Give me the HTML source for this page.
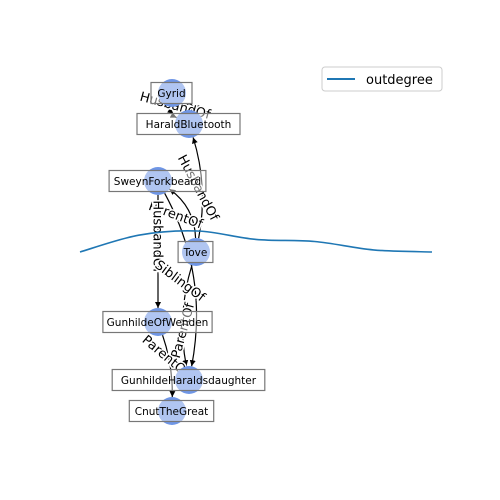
<!DOCTYPE html>
<html><head><meta charset="utf-8"><style>
html,body{margin:0;padding:0;background:#fff;}
svg{display:block;font-family:"DejaVu Sans","Liberation Sans",sans-serif;}
</style></head><body>
<svg id="chart" width="500" height="500" viewBox="0 0 500 500">
<defs><marker id="ah" viewBox="0 0 10 10" refX="10" refY="5" markerWidth="5" markerHeight="5" orient="auto-start-reverse"><path d="M0,0L10,5L0,10z" fill="#000"/></marker></defs>
<g id="edges"></g>
<g id="elabels"></g>
<g id="line"></g>
<g id="nodes"></g>
<g>
<rect x="322" y="67" width="120" height="24" rx="3" fill="#fff" stroke="#ccc"/>
<line x1="327" y1="79" x2="355" y2="79" stroke="#1f77b4" stroke-width="2"/>
<text x="366" y="84" font-size="13" fill="#000">outdegree</text>
</g>
</svg>
<script>
const nodeNames=["Gyrid","HaraldBluetooth","SweynForkbeard","Tove","GunhildeOfWenden","GunhildeHaraldsdaughter","CnutTheGreat"];
const nodeX=[172,189,158,196,158,189,172];
const nodeY=[93,124,181,252,322,380,411];
const edgeFrom=[1,0,3,3,2,2,3,4];
const edgeTo=[0,1,1,2,4,5,5,6];
const edgeLabels=["WifeOf","HusbandOf","HusbandOf","ParentOf","HusbandOf","SiblingOf","ParentOf","ParentOf"];
const outdegree=[0,0.8,1,0.6,0.5,0.1,0];
// styling per edge: curve bend, label offset and angle
const edgeBend=[-6,6,8,10,0,-18,8,-4];
const labelDX=[2,0,-2,-10,0,-11,-2,-3];
const labelDY=[-6,-6,0,3,-15,3,15,-10];
const labelAng=[15,15,62,20,90,37,-75,40];
const NS="http://www.w3.org/2000/svg";
function mk(t,a,p){const e=document.createElementNS(NS,t);for(const k in a)e.setAttribute(k,a[k]);p.appendChild(e);return e;}
const xL=80,xR=432,y0=252,k=21;
const xs=i=>xL+i*(xR-xL)/(outdegree.length-1);
const ys=v=>y0-v*k;
const pts=outdegree.map((v,i)=>[xs(i),ys(v)]);
let d="M"+pts[0][0]+","+pts[0][1];
for(let i=0;i<pts.length-1;i++){const p0=pts[Math.max(0,i-1)],p1=pts[i],p2=pts[i+1],p3=pts[Math.min(pts.length-1,i+2)];
d+=" C"+(p1[0]+(p2[0]-p0[0])/6)+","+(p1[1]+(p2[1]-p0[1])/6)+" "+(p2[0]-(p3[0]-p1[0])/6)+","+(p2[1]-(p3[1]-p1[1])/6)+" "+p2[0]+","+p2[1];}
const ln=mk("path",{d:d,fill:"none",stroke:"#1f77b4","stroke-width":1.6},document.getElementById("line"));


const eg=document.getElementById("edges"),lg=document.getElementById("elabels");
edgeFrom.forEach((f,i)=>{const t=edgeTo[i];
const x1=nodeX[f],y1=nodeY[f],x2=nodeX[t],y2=nodeY[t];
const dx=x2-x1,dy=y2-y1,L=Math.hypot(dx,dy);
const b=edgeBend[i],nx=-dy/L*b,ny=dx/L*b;
const cx=(x1+x2)/2+nx*2,cy=(y1+y2)/2+ny*2;
const sx=x1+(cx-x1)/Math.hypot(cx-x1,cy-y1)*14,sy=y1+(cy-y1)/Math.hypot(cx-x1,cy-y1)*14;
const q=Math.hypot(x2-cx,y2-cy),ex=x2-(x2-cx)/q*14,ey=y2-(y2-cy)/q*14;
const p=mk("path",{d:`M${sx},${sy} Q${cx},${cy} ${ex},${ey}`,fill:"none",stroke:"#000","stroke-width":1.2,"marker-end":"url(#ah)"},eg);


const mx=(x1+2*cx+x2)/4+labelDX[i],my=(y1+2*cy+y2)/4+labelDY[i];
const tx=mk("text",{x:mx,y:my+4.5,"font-size":13,"text-anchor":"middle",transform:`rotate(${labelAng[i]} ${mx} ${my})`,fill:"#000",stroke:"#fff","stroke-width":3,"paint-order":"stroke"},lg);
tx.textContent=edgeLabels[i];


});
const ng=document.getElementById("nodes");
nodeNames.forEach((n,i)=>{
const c=mk("circle",{cx:nodeX[i],cy:nodeY[i],r:14,fill:"#6f96e6"},ng);


const w=n.length*6.2+10;
const r=mk("rect",{x:nodeX[i]-w/2-0.5,y:nodeY[i]-10.5,width:w,height:21,fill:"#fff","fill-opacity":0.45,stroke:"#777","stroke-width":1.2},ng);


const t=mk("text",{x:nodeX[i]-0.5,y:nodeY[i]+4,"font-size":10.5,"text-anchor":"middle",fill:"#000"},ng);
t.textContent=n;


});
</script>
</body></html>
